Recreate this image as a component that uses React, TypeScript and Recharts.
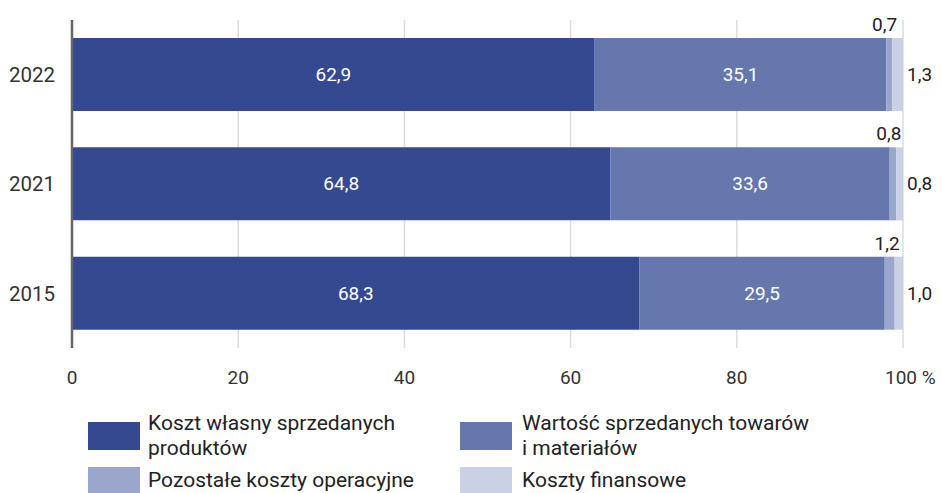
import React from "react";
import { BarChart, Bar, XAxis, YAxis, CartesianGrid, LabelList } from "recharts";

const years = ["2022", "2021", "2015"];
const kosztWlasny = [62.9, 64.8, 68.3];
const wartoscTowarow = [35.1, 33.6, 29.5];
const pozostaleOperacyjne = [0.7, 0.8, 1.2];
const kosztyFinansowe = [1.3, 0.8, 1.0];
const xTicks = [0, 20, 40, 60, 80, 100];

const seriesNames = [
  "Koszt własny sprzedanych produktów",
  "Wartość sprzedanych towarów i materiałów",
  "Pozostałe koszty operacyjne",
  "Koszty finansowe",
];
const colors = ["#34498f", "#6677ad", "#9aa6cb", "#cbd1e5"];

const data = years.map((y, i) => ({
  year: y,
  a: kosztWlasny[i],
  b: wartoscTowarow[i],
  c: pozostaleOperacyjne[i],
  d: kosztyFinansowe[i],
}));

const FONT = "Roboto, 'Open Sans', sans-serif";
const fmt = (v: number) => v.toFixed(1).replace(".", ",");

const InsideLabel = (props: any) => {
  const { x, y, width, height, value } = props;
  return (
    <text x={x + width / 2} y={y + height / 2} dy="0.35em" textAnchor="middle" fill="#ffffff" fontSize={19} fontFamily={FONT}>
      {fmt(value)}
    </text>
  );
};

const TopLabel = (props: any) => {
  const { x, y, width, value } = props;
  return (
    <text x={x + width + 5} y={y - 7} textAnchor="end" fill="#222" fontSize={19} fontFamily={FONT}>
      {fmt(value)}
    </text>
  );
};

const RightLabel = (props: any) => {
  const { x, y, width, height, value } = props;
  return (
    <text x={x + width + 4} y={y + height / 2} dy="0.35em" textAnchor="start" fill="#222" fontSize={19} fontFamily={FONT}>
      {fmt(value)}
    </text>
  );
};

const XTick = (props: any) => {
  const { x, y, payload } = props;
  const v = payload.value;
  if (v === 100) {
    return (
      <text x={x - 18} y={y} dy="0.71em" textAnchor="start" fill="#333" fontSize={19} fontFamily={FONT}>
        100 %
      </text>
    );
  }
  return (
    <text x={x} y={y} dy="0.71em" textAnchor="middle" fill="#333" fontSize={19} fontFamily={FONT}>
      {v}
    </text>
  );
};

const legendItems = [
  { left: 88, top: 422, h: 28, textLeft: 148, textTop: 411, lines: ["Koszt własny sprzedanych", "produktów"], color: colors[0] },
  { left: 460, top: 422, h: 28, textLeft: 522, textTop: 411, lines: ["Wartość sprzedanych towarów", "i materiałów"], color: colors[1] },
  { left: 88, top: 467, h: 26, textLeft: 148, textTop: 468, lines: ["Pozostałe koszty operacyjne"], color: colors[2] },
  { left: 460, top: 467, h: 26, textLeft: 522, textTop: 468, lines: ["Koszty finansowe"], color: colors[3] },
];

export default function App() {
  return (
    <div style={{ position: "absolute", left: 0, top: 0, width: 942, height: 493, background: "#fff", overflow: "hidden" }}>
      <BarChart
        width={942}
        height={493}
        data={data}
        layout="vertical"
        margin={{ top: 20, right: 39, bottom: 105, left: 0 }}
        barSize={73}
      >
        <CartesianGrid horizontal={false} stroke="#dcdcdc" strokeWidth={1.5} />
        <XAxis
          type="number"
          domain={[0, 100]}
          ticks={xTicks}
          axisLine={false}
          tickLine={false}
          tick={<XTick />}
          tickMargin={17}
          height={40}
          interval={0}
        />
        <YAxis
          type="category"
          dataKey="year"
          width={72}
          axisLine={{ stroke: "#666", strokeWidth: 2.5 }}
          tickLine={false}
          tickMargin={11}
          tick={{ fill: "#333", fontSize: 20.5, fontFamily: FONT }}
        />
        <Bar dataKey="a" name={seriesNames[0]} stackId="s" fill={colors[0]} isAnimationActive={false}>
          <LabelList dataKey="a" content={<InsideLabel />} />
        </Bar>
        <Bar dataKey="b" name={seriesNames[1]} stackId="s" fill={colors[1]} isAnimationActive={false}>
          <LabelList dataKey="b" content={<InsideLabel />} />
        </Bar>
        <Bar dataKey="c" name={seriesNames[2]} stackId="s" fill={colors[2]} isAnimationActive={false}>
          <LabelList dataKey="c" content={<TopLabel />} />
        </Bar>
        <Bar dataKey="d" name={seriesNames[3]} stackId="s" fill={colors[3]} isAnimationActive={false}>
          <LabelList dataKey="d" content={<RightLabel />} />
        </Bar>
      </BarChart>
      {legendItems.map((it, i) => (
        <React.Fragment key={i}>
          <div style={{ position: "absolute", left: it.left, top: it.top, width: 52, height: it.h, background: it.color }} />
          <div
            style={{
              position: "absolute",
              left: it.textLeft,
              top: it.textTop,
              fontFamily: FONT,
              fontSize: 21,
              lineHeight: "25px",
              color: "#222",
              whiteSpace: "nowrap",
            }}
          >
            {it.lines.map((l, j) => (
              <div key={j}>{l}</div>
            ))}
          </div>
        </React.Fragment>
      ))}
    </div>
  );
}
